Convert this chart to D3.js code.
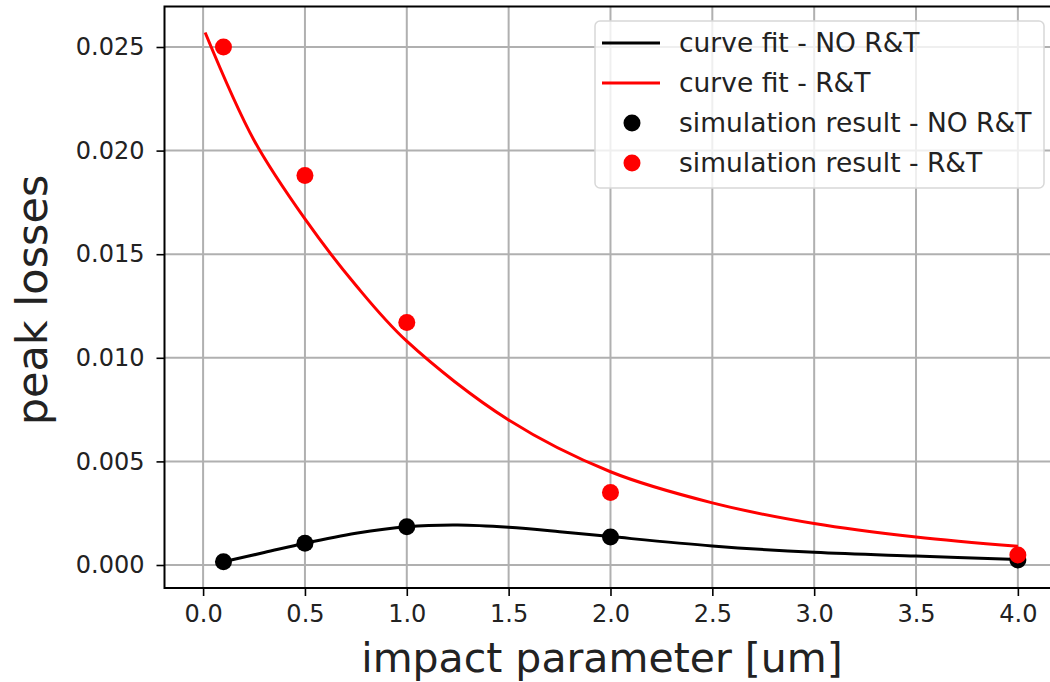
<!DOCTYPE html>
<html>
<head>
<meta charset="utf-8">
<script src="https://cdnjs.cloudflare.com/ajax/libs/d3/7.8.5/d3.min.js"></script>
<style>
  body { margin: 0; background: #fff; }
  svg { display: block; font-family: "DejaVu Sans", sans-serif; }
</style>
</head>
<body>
<div id="chart"></div>
<script>
'use strict';

// simulation points
const simX = [0.1, 0.5, 1.0, 2.0, 4.0];
const simNoRT = [0.00016, 0.00105, 0.00185, 0.00135, 0.00024];
const simRT = [0.0250, 0.0188, 0.0117, 0.0035, 0.00048];

// curve fits
const fitRTx = [0.01, 0.25, 0.5, 0.75, 1.0, 1.5, 2.0, 2.5, 3.0, 3.5, 4.0];
const fitRTy = [0.0257, 0.0205, 0.0167, 0.0135, 0.0108, 0.0070, 0.0045, 0.0030, 0.0020, 0.00135, 0.0009];
const fitNoRTx = [0.1, 0.3, 0.5, 0.75, 1.0, 1.25, 1.5, 1.75, 2.0, 2.5, 3.0, 3.5, 4.0];
const fitNoRTy = [0.00016, 0.0006, 0.00105, 0.00153, 0.00185, 0.00193, 0.00182, 0.00161, 0.00137, 0.00092, 0.00061, 0.00043, 0.00027];

const xTicks = [0.0, 0.5, 1.0, 1.5, 2.0, 2.5, 3.0, 3.5, 4.0];
const yTicks = [0.000, 0.005, 0.010, 0.015, 0.020, 0.025];

const legendLabels = ['curve fit - NO R&T', 'curve fit - R&T', 'simulation result - NO R&T', 'simulation result - R&T'];

const width = 1050;
const height = 682;
const plotLeft = 164.5, plotRight = 1058.5, plotTop = 6.5, plotBottom = 588;

const svg = d3.select('#chart')
  .append('svg')
  .attr('width', width)
  .attr('height', height);

const x = d3.scaleLinear().domain([-0.1895, 4.1995]).range([plotLeft, plotRight]);
const y = d3.scaleLinear().domain([0, 0.025]).range([565, 47]);

// grid
svg.append('g')
  .selectAll('line')
  .data(xTicks)
  .enter()
  .append('line')
  .attr('x1', d => x(d)).attr('x2', d => x(d))
  .attr('y1', plotTop).attr('y2', plotBottom)
  .attr('stroke', '#b0b0b0').attr('stroke-width', 2);

svg.append('g')
  .selectAll('line')
  .data(yTicks)
  .enter()
  .append('line')
  .attr('x1', plotLeft).attr('x2', plotRight)
  .attr('y1', d => y(d)).attr('y2', d => y(d))
  .attr('stroke', '#b0b0b0').attr('stroke-width', 2);

// axes
const xAxis = svg.append('g')
  .attr('transform', 'translate(0,' + plotBottom + ')')
  .call(d3.axisBottom(x).tickValues(xTicks).tickFormat(d3.format('.1f')).tickSize(8).tickPadding(9));

const yAxis = svg.append('g')
  .attr('transform', 'translate(' + plotLeft + ',0)')
  .call(d3.axisLeft(y).tickValues(yTicks).tickFormat(d3.format('.3f')).tickSize(8).tickPadding(12));

[xAxis, yAxis].forEach(function(g) {
  g.select('.domain').remove();
  g.selectAll('.tick line').attr('stroke', '#000').attr('stroke-width', 1.6);
  g.selectAll('.tick text')
    .attr('fill', '#222')
    .style('font-size', '24px')
    .style('font-family', '"DejaVu Sans", sans-serif');
});

// spines
svg.append('rect')
  .attr('x', plotLeft).attr('y', plotTop)
  .attr('width', plotRight - plotLeft).attr('height', plotBottom - plotTop)
  .attr('fill', 'none')
  .attr('stroke', '#000')
  .attr('stroke-width', 2);

// fit lines
const line = d3.line()
  .x(d => x(d[0]))
  .y(d => y(d[1]))
  .curve(d3.curveCatmullRom);

svg.append('path')
  .datum(d3.zip(fitNoRTx, fitNoRTy))
  .attr('d', line)
  .attr('fill', 'none')
  .attr('stroke', '#000')
  .attr('stroke-width', 3);

svg.append('path')
  .datum(d3.zip(fitRTx, fitRTy))
  .attr('d', line)
  .attr('fill', 'none')
  .attr('stroke', '#ff0000')
  .attr('stroke-width', 3);

// scatter
svg.append('g')
  .selectAll('circle')
  .data(d3.zip(simX, simNoRT))
  .enter()
  .append('circle')
  .attr('cx', d => x(d[0]))
  .attr('cy', d => y(d[1]))
  .attr('r', 8.5)
  .attr('fill', '#000');

svg.append('g')
  .selectAll('circle')
  .data(d3.zip(simX, simRT))
  .enter()
  .append('circle')
  .attr('cx', d => x(d[0]))
  .attr('cy', d => y(d[1]))
  .attr('r', 8.5)
  .attr('fill', '#ff0000');

// axis labels
svg.append('text')
  .attr('x', 602)
  .attr('y', 672)
  .attr('text-anchor', 'middle')
  .attr('fill', '#222')
  .style('font-size', '41px')
  .text('impact parameter [um]');

svg.append('text')
  .attr('transform', 'translate(47,300) rotate(-90)')
  .attr('text-anchor', 'middle')
  .attr('fill', '#222')
  .style('font-size', '43px')
  .text('peak losses');

// legend
const legend = svg.append('g').attr('transform', 'translate(595,21)');

legend.append('rect')
  .attr('width', 449).attr('height', 167)
  .attr('rx', 5)
  .attr('fill', 'rgba(255,255,255,0.8)')
  .attr('stroke', '#d8d8d8')
  .attr('stroke-width', 1.5);

const swatchColors = ['#000', '#ff0000', '#000', '#ff0000'];

const items = legend.selectAll('.item')
  .data(legendLabels)
  .enter()
  .append('g')
  .attr('class', 'item')
  .attr('transform', (d, i) => 'translate(0,' + (22 + i * 40) + ')');

items.filter((d, i) => i < 2)
  .append('line')
  .attr('x1', 7).attr('x2', 65)
  .attr('stroke', (d, i) => swatchColors[i])
  .attr('stroke-width', 3);

items.filter((d, i) => i >= 2)
  .append('circle')
  .attr('cx', 37)
  .attr('r', 8.5)
  .attr('fill', (d, i) => swatchColors[i + 2]);

items.append('text')
  .attr('x', 84)
  .attr('dy', '0.35em')
  .attr('fill', '#222')
  .style('font-size', '26.5px')
  .text(d => d);
</script>
</body>
</html>
